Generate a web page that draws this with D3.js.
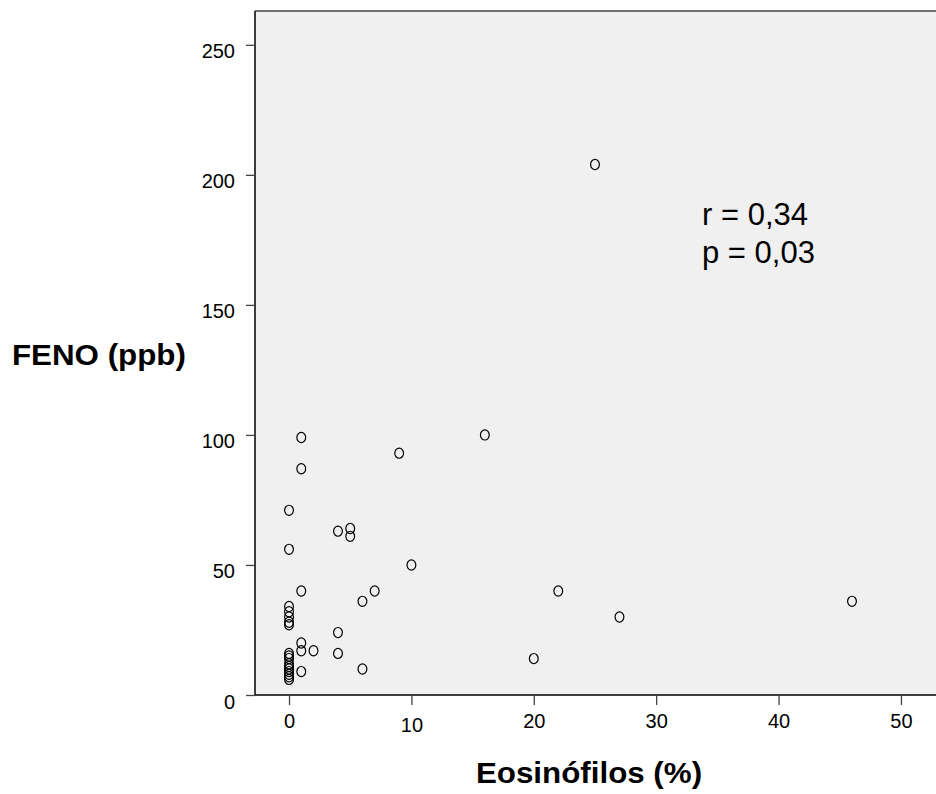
<!DOCTYPE html>
<html>
<head>
<meta charset="utf-8">
<script src="https://cdn.jsdelivr.net/npm/d3@7/dist/d3.min.js"></script>
<style>
  html, body { margin: 0; padding: 0; background: #ffffff; }
  svg { display: block; font-family: "Liberation Sans", Arial, sans-serif; }
</style>
</head>
<body>
<svg id="chart" width="936" height="794"></svg>
<script>
// Eosinophil percentage (x) and FENO in ppb (y), one entry per patient
const eosinophils = [
  25, 16, 9, 10, 22, 27, 20, 46,
  1, 1, 0, 0, 4, 5, 5,
  1, 7, 6, 4, 1, 1, 2, 4, 1, 6,
  0, 0, 0, 0, 0,
  0, 0, 0, 0, 0, 0, 0, 0, 0, 0
];
const feno = [
  204, 100, 93, 50, 40, 30, 14, 36,
  99, 87, 71, 56, 63, 64, 61,
  40, 40, 36, 24, 20, 17, 17, 16, 9, 10,
  34, 32, 30, 28, 27,
  16, 15, 14, 12, 11, 10, 9, 8, 7, 6
];
const xTicks = [0, 10, 20, 30, 40, 50];
const yTicks = [0, 50, 100, 150, 200, 250];
const statLines = ["r = 0,34", "p = 0,03"];

const points = eosinophils.map((e, i) => ({ x: e, y: feno[i] }));

const svg = d3.select("#chart");
const plotLeft = 255, plotTop = 11, plotBottom = 695, plotRight = 945;

const x = d3.scaleLinear().domain([-2.78, 53.6]).range([plotLeft, plotRight]);
const y = d3.scaleLinear().domain([0, 263]).range([plotBottom, plotTop]);

// plot background
svg.append("rect")
  .attr("x", plotLeft).attr("y", plotTop)
  .attr("width", plotRight - plotLeft).attr("height", plotBottom - plotTop)
  .attr("fill", "#f0f0f0");

// top frame line
svg.append("line")
  .attr("x1", plotLeft).attr("x2", plotRight)
  .attr("y1", plotTop).attr("y2", plotTop)
  .attr("stroke", "#444").attr("stroke-width", 1.3);

// y axis
const yAxis = svg.append("g")
  .attr("transform", `translate(${plotLeft},0)`)
  .call(d3.axisLeft(y).tickValues(yTicks).tickSize(9).tickPadding(11).tickSizeOuter(0));
yAxis.select(".domain").attr("stroke", "#000").attr("stroke-width", 1.5)
  .attr("d", `M0,${plotTop}V${plotBottom}`);
yAxis.selectAll(".tick line").attr("stroke", "#444").attr("stroke-width", 1.3);
yAxis.selectAll(".tick text")
  .attr("font-size", 20).attr("font-family", "Liberation Sans, Arial, sans-serif")
  .attr("fill", "#000").attr("dy", "0.65em");

// x axis
const xAxis = svg.append("g")
  .attr("transform", `translate(0,${plotBottom})`)
  .call(d3.axisBottom(x).tickValues(xTicks).tickSize(10).tickPadding(8).tickSizeOuter(0));
xAxis.select(".domain").attr("stroke", "#000").attr("stroke-width", 1.5)
  .attr("d", `M${plotLeft},0H${plotRight}`);
xAxis.selectAll(".tick line").attr("stroke", "#444").attr("stroke-width", 1.3);
xAxis.selectAll(".tick text")
  .attr("font-size", 20).attr("font-family", "Liberation Sans, Arial, sans-serif")
  .attr("fill", "#000")
  .attr("dy", d => d === 10 ? "0.95em" : "0.75em");

// points: open ellipses
svg.append("g")
  .selectAll("ellipse")
  .data(points)
  .join("ellipse")
  .attr("cx", d => x(d.x))
  .attr("cy", d => y(d.y))
  .attr("rx", 4.4)
  .attr("ry", 5.1)
  .attr("fill", "none")
  .attr("stroke", "#000")
  .attr("stroke-width", 1.2);

// correlation annotation
svg.append("g")
  .selectAll("text")
  .data(statLines)
  .join("text")
  .attr("x", 702)
  .attr("y", (d, i) => 224.5 + i * 38.5)
  .attr("font-size", 31)
  .attr("fill", "#000")
  .text(d => d);

// axis titles
svg.append("text")
  .attr("transform", "translate(12,365) scale(1.08,1)")
  .attr("font-size", 29)
  .attr("font-weight", "bold")
  .attr("fill", "#000")
  .text("FENO (ppb)");

svg.append("text")
  .attr("transform", "translate(589,783) scale(1.08,1)")
  .attr("text-anchor", "middle")
  .attr("font-size", 29)
  .attr("font-weight", "bold")
  .attr("fill", "#000")
  .text("Eosinófilos (%)");
</script>
</body>
</html>
